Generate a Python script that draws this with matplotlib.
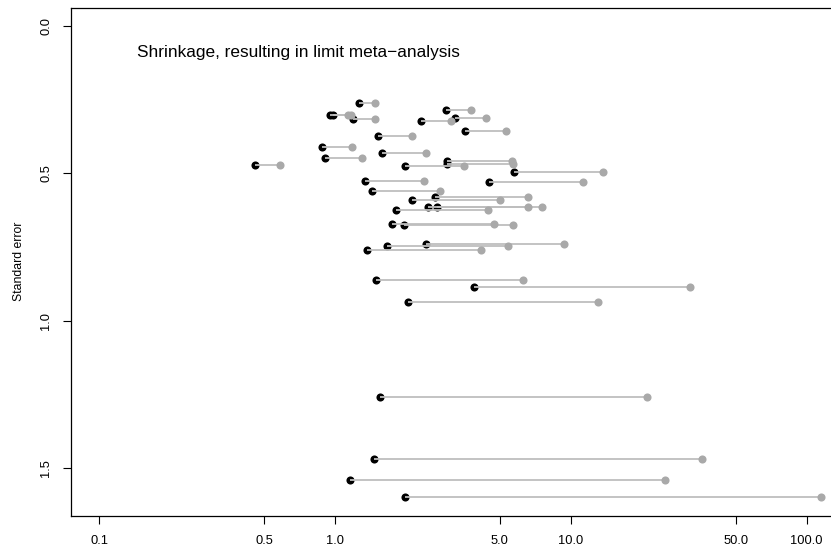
import numpy as np
import matplotlib
matplotlib.use('Agg')
from matplotlib import pyplot as plt
from matplotlib.ticker import FixedLocator, FixedFormatter, NullLocator

plt.rcParams['font.family'] = ['Liberation Sans', 'DejaVu Sans']

# shrunken estimate, original estimate, standard error
shrunk = [1.263, 0.951, 0.977, 1.194, 2.944, 3.225, 2.314, 3.545, 1.525, 0.877,
          1.576, 0.906, 0.456, 1.985, 2.991, 2.991, 5.754, 1.339, 4.508, 1.430,
          2.113, 2.653, 2.477, 2.713, 1.813, 1.738, 1.960, 1.660, 2.429, 1.366,
          1.492, 3.882, 2.044, 1.550, 1.462, 1.158, 1.979]
original = [1.478, 1.134, 1.168, 1.478, 3.759, 4.365, 3.101, 5.306, 2.119, 1.183,
            2.429, 1.300, 0.586, 3.511, 5.610, 5.683, 13.72, 2.389, 11.22, 2.794,
            5.004, 6.577, 6.558, 7.540, 4.464, 4.720, 5.698, 5.395, 9.350, 4.157,
            6.246, 32.00, 13.03, 21.10, 36.10, 25.10, 115.3]
se = [0.262, 0.300, 0.302, 0.315, 0.283, 0.311, 0.323, 0.354, 0.374, 0.411,
      0.430, 0.448, 0.471, 0.474, 0.458, 0.469, 0.496, 0.525, 0.529, 0.558,
      0.590, 0.579, 0.613, 0.615, 0.625, 0.671, 0.676, 0.747, 0.741, 0.759,
      0.861, 0.886, 0.936, 1.258, 1.470, 1.542, 1.599]

xticks = [0.1, 0.5, 1.0, 5.0, 10.0, 50.0, 100.0]
xtick_labels = ['0.1', '0.5', '1.0', '5.0', '10.0', '50.0', '100.0']
yticks = [0.0, 0.5, 1.0, 1.5]
ytick_labels = ['0.0', '0.5', '1.0', '1.5']

fig = plt.figure(figsize=(8.31, 5.49), dpi=100)
ax = fig.add_axes([71 / 831, 1 - 516 / 549, 764 / 831, 508.5 / 549])

# black points first, then the connecting segments, then the originals
ax.scatter(shrunk, se, s=34, color='black', zorder=2, linewidths=0)
for a, b, s in zip(shrunk, original, se):
    ax.plot([a, b], [s, s], color='#bebebe', lw=1.3, zorder=3, solid_capstyle='butt')
ax.scatter(original, se, s=34, color='#a9a9a9', zorder=4, linewidths=0)

ax.set_xscale('log')
ax.set_xlim(0.0759, 131.8)
ax.set_ylim(1.664, -0.064)

ax.xaxis.set_major_locator(FixedLocator(xticks))
ax.xaxis.set_major_formatter(FixedFormatter(xtick_labels))
ax.xaxis.set_minor_locator(NullLocator())
ax.set_yticks(yticks)
ax.set_yticklabels(ytick_labels, rotation=90, va='center')

ax.tick_params(axis='both', direction='out', length=5.5, width=0.8,
               labelsize=9.3, colors='black')
ax.tick_params(axis='x', pad=8)
ax.tick_params(axis='y', pad=8)
for side in ['left', 'top', 'bottom', 'right']:
    ax.spines[side].set_linewidth(0.9)

ax.set_ylabel('Standard error', fontsize=8.8, labelpad=11)

fig.text(137 / 831, 1 - 52 / 549, 'Shrinkage, resulting in limit meta\u2212analysis',
         ha='left', va='center', fontsize=12.4)

fig.savefig('out.png', dpi=100)
